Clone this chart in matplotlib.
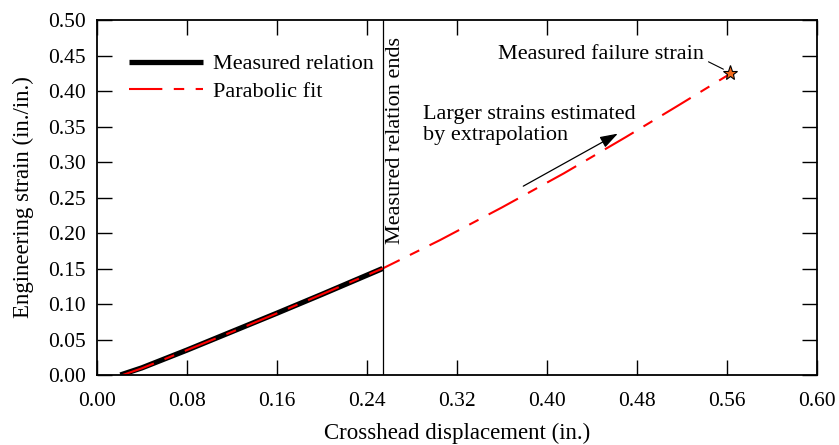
import matplotlib
matplotlib.use('Agg')
from matplotlib import pyplot as pl
import numpy as np

pl.rcParams['font.family'] = ['Liberation Serif', 'DejaVu Serif']
pl.rcParams['mathtext.fontset'] = 'stix'

# measured crosshead displacement vs strain
meas_x = [0.021, 0.040, 0.080, 0.120, 0.160, 0.200, 0.254]
meas_y = [0.000, 0.010, 0.035, 0.061, 0.087, 0.1135, 0.150]

# parabolic fit, extended to failure
fit_x = [0.023, 0.040, 0.080, 0.120, 0.160, 0.200, 0.254, 0.305, 0.360, 0.415, 0.470, 0.515, 0.561]
fit_y = [0.000, 0.0094, 0.035, 0.0606, 0.0868, 0.1136, 0.150, 0.190, 0.236, 0.284, 0.335, 0.378, 0.4225]

fail_x = 0.563
fail_y = 0.425
end_x = 0.254

xticks = [0.0, 0.08, 0.16, 0.24, 0.32, 0.40, 0.48, 0.56, 0.64]
xticklabels = ['0.00', '0.08', '0.16', '0.24', '0.32', '0.40', '0.48', '0.56', '0.60']
yticks = np.arange(0, 0.501, 0.05)

fig = pl.figure(figsize=(8.39, 4.45), dpi=100)
ax = fig.add_axes([0.1153, 0.1573, 0.9738 - 0.1153, 0.955 - 0.1573])

ax.plot(meas_x, meas_y, color='black', lw=3.8, solid_capstyle='butt', label='Measured relation')
ax.plot(fit_x, fit_y, color='red', lw=1.5, dashes=(16, 5.5, 5, 5.5), label='Parabolic fit')
ax.axvline(end_x, color='black', lw=0.9)
ax.plot(fail_x, fail_y, marker='*', ms=11, mfc='#f26a1b', mec='black', mew=0.8, linestyle='none')

ax.text(end_x + 0.003, 0.33, 'Measured relation ends', rotation=90, ha='left', va='center', fontsize=16)
ax.text(0.290, 0.352, 'Larger strains estimated\nby extrapolation', ha='left', va='center',
        fontsize=16, linespacing=1.1)
ax.annotate('', xy=(0.463, 0.340), xytext=(0.379, 0.266),
            arrowprops=dict(arrowstyle='-|>,head_length=0.6,head_width=0.2', color='black', lw=0.9,
                            mutation_scale=18, shrinkA=0, shrinkB=0))
ax.annotate('Measured failure strain', xy=(fail_x - 0.004, fail_y + 0.004), xytext=(0.540, 0.452),
            ha='right', va='center', fontsize=16,
            arrowprops=dict(arrowstyle='-', color='black', lw=0.8, shrinkA=1, shrinkB=2,
                            relpos=(1.0, 0.2)))

ax.set_xlim(0, 0.64)
ax.set_ylim(0, 0.50)
ax.set_xticks(xticks)
ax.set_xticklabels(xticklabels)
ax.set_yticks(yticks)
ax.set_yticklabels(['%.2f' % v for v in yticks])
ax.tick_params(direction='in', length=11, width=1.0, top=True, right=True, labelsize=15.5)
ax.tick_params(axis='x', pad=12)
ax.tick_params(axis='y', pad=8)
for s in ax.spines.values():
    s.set_linewidth(1.3)

ax.set_xlabel('Crosshead displacement (in.)', fontsize=16.5, labelpad=9)
ax.set_ylabel('Engineering strain (in./in.)', fontsize=16.5, labelpad=10)

ax.legend(loc='upper left', frameon=False, fontsize=16, handlelength=3.3, handletextpad=0.45,
          labelspacing=0.3, bbox_to_anchor=(0.033, 0.93), borderaxespad=0)

fig.savefig('out.png', dpi=100)
